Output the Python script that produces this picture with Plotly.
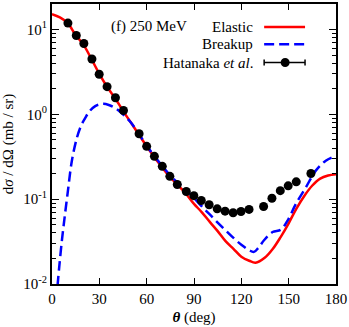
import plotly.graph_objects as go

# Experimental data (Hatanaka et al.)
exp_theta = [10.1, 15.4, 20.2, 25.3, 29.9, 34.9, 40.2, 45.3, 55.2, 60.0, 64.9, 69.9, 74.7,
             79.4, 85.1, 89.9, 94.6, 99.6, 104.7, 109.7, 114.8, 119.8, 124.9,
             134.1, 139.4, 144.7, 149.7, 154.8, 164.1]
exp_xs = [11.9, 8.5, 6.85, 4.49, 2.97, 2.12, 1.57, 1.11, 0.59, 0.42, 0.32, 0.244, 0.186,
          0.149, 0.123, 0.110, 0.0964, 0.0859, 0.077, 0.0723, 0.0692, 0.0716, 0.0757,
          0.082, 0.1026, 0.126, 0.1435, 0.160, 0.201]

# Elastic calculation
el_theta = [0, 5, 10, 15, 20, 25, 30, 35, 40, 45, 50, 55, 60, 65, 70, 75, 80, 85, 90, 95,
            100, 105, 110, 115, 120, 125, 129, 135, 140, 145, 150, 155, 160, 165, 170, 175, 180]
el_xs = [15.2, 13.9, 11.9, 8.6, 6.6, 4.5, 3.0, 2.1, 1.55, 1.1, 0.8, 0.58, 0.42, 0.31, 0.235,
         0.18, 0.145, 0.115, 0.088, 0.07, 0.054, 0.042, 0.032, 0.026, 0.021, 0.0188, 0.0178,
         0.0205, 0.026, 0.036, 0.052, 0.078, 0.11, 0.145, 0.175, 0.19, 0.197]

# Breakup calculation
bu_theta = [3.5, 4.6, 6.3, 8.0, 10.1, 12.6, 15.8, 18.5, 21.1, 24, 27.4, 30, 32.6, 36, 39, 42,
            45, 50, 55, 60, 65, 70, 75, 80, 85, 90, 95, 100, 105, 110, 115, 120, 125, 128,
            131, 134.5, 139.8, 145.1, 149.3, 154.6, 160.9, 167.2, 173.5, 180]
bu_xs = [0.0095, 0.016, 0.033, 0.061, 0.126, 0.284, 0.53, 0.74, 0.91, 1.1, 1.25, 1.31, 1.33,
         1.29, 1.22, 1.12, 1.0, 0.8, 0.59, 0.43, 0.32, 0.245, 0.19, 0.155, 0.128, 0.103,
         0.082, 0.066, 0.053, 0.043, 0.035, 0.029, 0.025, 0.0239, 0.027, 0.033, 0.041,
         0.0438, 0.056, 0.088, 0.138, 0.217, 0.284, 0.325]

x_ticks = [0, 30, 60, 90, 120, 150, 180]
y_ticks = [0.01, 0.1, 1, 10]
y_ticktext = ["10<sup>-2</sup>", "10<sup>-1</sup>", "10<sup>0</sup>", "10<sup>1</sup>"]
y_minor = [m * d for d in (0.01, 0.1, 1, 10) for m in range(2, 10) if m * d <= 20]

FONT = "Liberation Serif, Times New Roman, Times, serif"

fig = go.Figure()
fig.add_trace(go.Scatter(x=el_theta, y=el_xs, mode="lines", line=dict(color="#ff0000", width=2.5, shape="spline"),
                         showlegend=False))
fig.add_trace(go.Scatter(x=bu_theta, y=bu_xs, mode="lines",
                         line=dict(color="#0000ff", width=2.5, dash="10px,5px", shape="spline"),
                         showlegend=False))
fig.add_trace(go.Scatter(x=exp_theta, y=exp_xs, mode="markers",
                         marker=dict(color="black", size=9), showlegend=False))

axis_common = dict(showline=True, linecolor="black", linewidth=2, mirror="ticks",
                   ticks="inside", tickcolor="black", tickwidth=1, showgrid=False, zeroline=False,
                   tickfont=dict(family=FONT, size=15, color="black"))

fig.update_xaxes(range=[0, 180], tickvals=x_ticks, ticklen=6,
                 title=dict(text="<b><i>θ</i></b> (deg)", font=dict(family=FONT, size=15, color="black"),
                            standoff=5), **axis_common)
fig.update_yaxes(type="log", range=[-2, 1.301], tickvals=y_ticks, ticktext=y_ticktext, ticklen=7,
                 minor=dict(tickmode="array", tickvals=y_minor, ticks="inside", ticklen=4,
                            tickcolor="black", tickwidth=1, showgrid=False),
                 title=dict(text="d<i>σ</i> / dΩ (mb / sr)", font=dict(family=FONT, size=15, color="black"),
                            standoff=6), **axis_common)

# Manual legend (text left of sample)
leg_x0, leg_x1 = 0.747, 0.891
rows = [(0.918, "Elastic"), (0.856, "Breakup"), (0.791, "Hatanaka <i>et al</i>.")]
for y, txt in rows:
    fig.add_annotation(x=0.716, y=y, xref="paper", yref="paper", text=txt, showarrow=False,
                       xanchor="right", yanchor="middle", font=dict(family=FONT, size=15, color="black"))
fig.add_shape(type="line", xref="paper", yref="paper", x0=leg_x0, x1=leg_x1, y0=rows[0][0], y1=rows[0][0],
              line=dict(color="#ff0000", width=2.5))
fig.add_shape(type="line", xref="paper", yref="paper", x0=leg_x0, x1=leg_x1, y0=rows[1][0], y1=rows[1][0],
              line=dict(color="#0000ff", width=2.5, dash="10px,5px"))
fig.add_shape(type="line", xref="paper", yref="paper", x0=leg_x0, x1=leg_x1, y0=rows[2][0], y1=rows[2][0],
              line=dict(color="black", width=1.5))
for xe in (leg_x0, leg_x1):
    fig.add_shape(type="line", xref="paper", yref="paper", ysizemode="pixel", yanchor=rows[2][0],
                  x0=xe, x1=xe, y0=-3, y1=3, line=dict(color="black", width=1.5))
fig.add_shape(type="circle", xref="paper", yref="paper", xsizemode="pixel", ysizemode="pixel",
              xanchor=0.821, yanchor=rows[2][0], x0=-4.5, x1=4.5, y0=-4.5, y1=4.5,
              fillcolor="black", line=dict(color="black", width=0))

fig.add_annotation(x=0.2, y=0.918, xref="paper", yref="paper", text="(f) 250 MeV", showarrow=False,
                   xanchor="left", yanchor="middle", font=dict(family=FONT, size=15, color="black"))

fig.update_layout(width=349, height=327, margin=dict(l=52, r=12, t=2, b=43),
                  plot_bgcolor="white", paper_bgcolor="white",
                  font=dict(family=FONT, color="black"))

fig.write_html("out.html", config={"displayModeBar": False},
               post_script="document.body.style.margin='0';")
